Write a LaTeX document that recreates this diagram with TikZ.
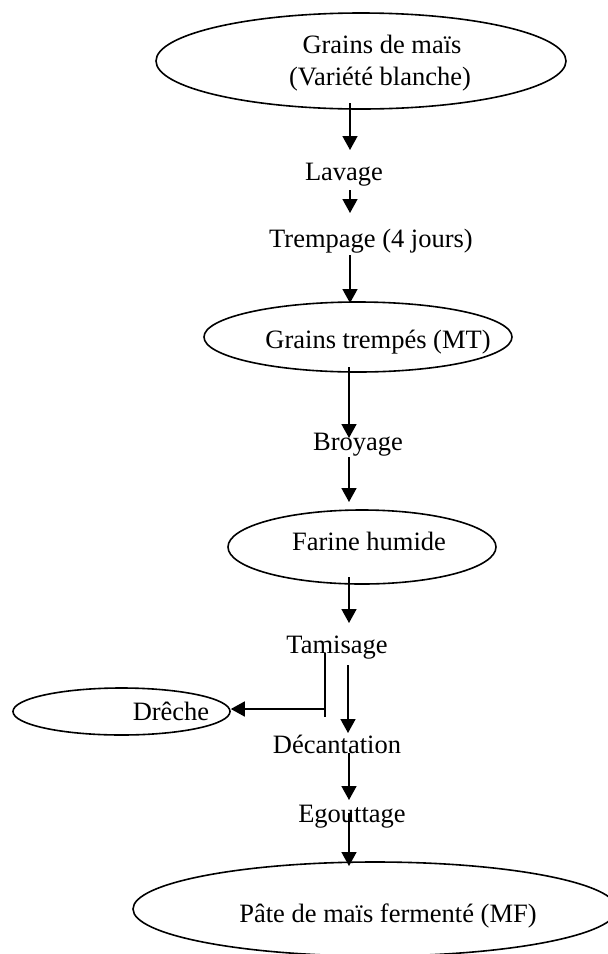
\documentclass[tikz,border=0pt]{standalone}
\usepackage{fontspec}
\setmainfont{Liberation Serif}
\usetikzlibrary{shapes.geometric,arrows.meta}
\begin{document}
\begin{tikzpicture}[x=0.5pt,y=-0.5pt,
  oval/.style={draw,ellipse,line width=0.8pt,inner sep=0pt},
  lbl/.style={anchor=base,inner sep=0pt,font=\fontsize{13.25}{16}\selectfont},
  arr/.style={line width=0.8pt,-{Triangle[length=7pt,width=7.5pt]}},
  ln/.style={line width=0.8pt}]
\clip (0,0) rectangle (608,954);
% ellipses
\node[oval,minimum width=205pt,minimum height=48pt] (eTop) at (361,61) {};
\node[oval,minimum width=154pt,minimum height=35pt] (eMT) at (358,337) {};
\node[oval,minimum width=134pt,minimum height=37pt] (eFar) at (362,547) {};
\node[oval,minimum width=108.5pt,minimum height=23.5pt] (eDre) at (121.5,711.5) {};
\node[oval,minimum width=242pt,minimum height=47pt] (eMF) at (375,909) {};
% texts
\node[lbl] (tGr1) at (382,53) {Grains de maïs};
\node[lbl] (tGr2) at (380,85) {(Variété blanche)};
\node[lbl] (tLav) at (344,180) {Lavage};
\node[lbl] (tTre) at (371,247) {Trempage (4 jours)};
\node[lbl] (tMT) at (378,348) {Grains trempés (MT)};
\node[lbl] (tBro) at (358,450) {Broyage};
\node[lbl] (tFar) at (369,550) {Farine humide};
\node[lbl] (tTam) at (337,653) {Tamisage};
\node[lbl] (tDre) at (171,720) {Drêche};
\node[lbl] (tDec) at (337,753) {Décantation};
\node[lbl] (tEgo) at (352,822) {Egouttage};
\node[lbl] (tMF) at (388,922) {Pâte de maïs fermenté (MF)};
% arrow end points
\coordinate (a1s) at (350,103); \coordinate (a1e) at (350,150);
\coordinate (a2s) at (350,190); \coordinate (a2e) at (350,213);
\coordinate (a3s) at (350,255); \coordinate (a3e) at (350,303);
\coordinate (a4s) at (349,367); \coordinate (a4e) at (349,438);
\coordinate (a5s) at (349,457); \coordinate (a5e) at (349,502);
\coordinate (a6s) at (349,577); \coordinate (a6e) at (349,623);
\coordinate (a7s) at (348,665); \coordinate (a7e) at (348,733);
\coordinate (a8s) at (349,753); \coordinate (a8e) at (349,800);
\coordinate (a9s) at (349,813); \coordinate (a9e) at (349,866);
\coordinate (bTop) at (325,653); \coordinate (bBot) at (325,717);
\coordinate (bMid) at (325,709);
\draw[arr] (a1s) -- (a1e);
\draw[arr] (a2s) -- (a2e);
\draw[arr] (a3s) -- (a3e);
\draw[arr] (a4s) -- (a4e);
\draw[arr] (a5s) -- (a5e);
\draw[arr] (a6s) -- (a6e);
\draw[arr] (a7s) -- (a7e);
\draw[arr] (a8s) -- (a8e);
\draw[arr] (a9s) -- (a9e);
\draw[ln] (bTop) -- (bBot);
\draw[arr] (bMid) -- (bMid -| eDre.east);
\end{tikzpicture}
\end{document}
